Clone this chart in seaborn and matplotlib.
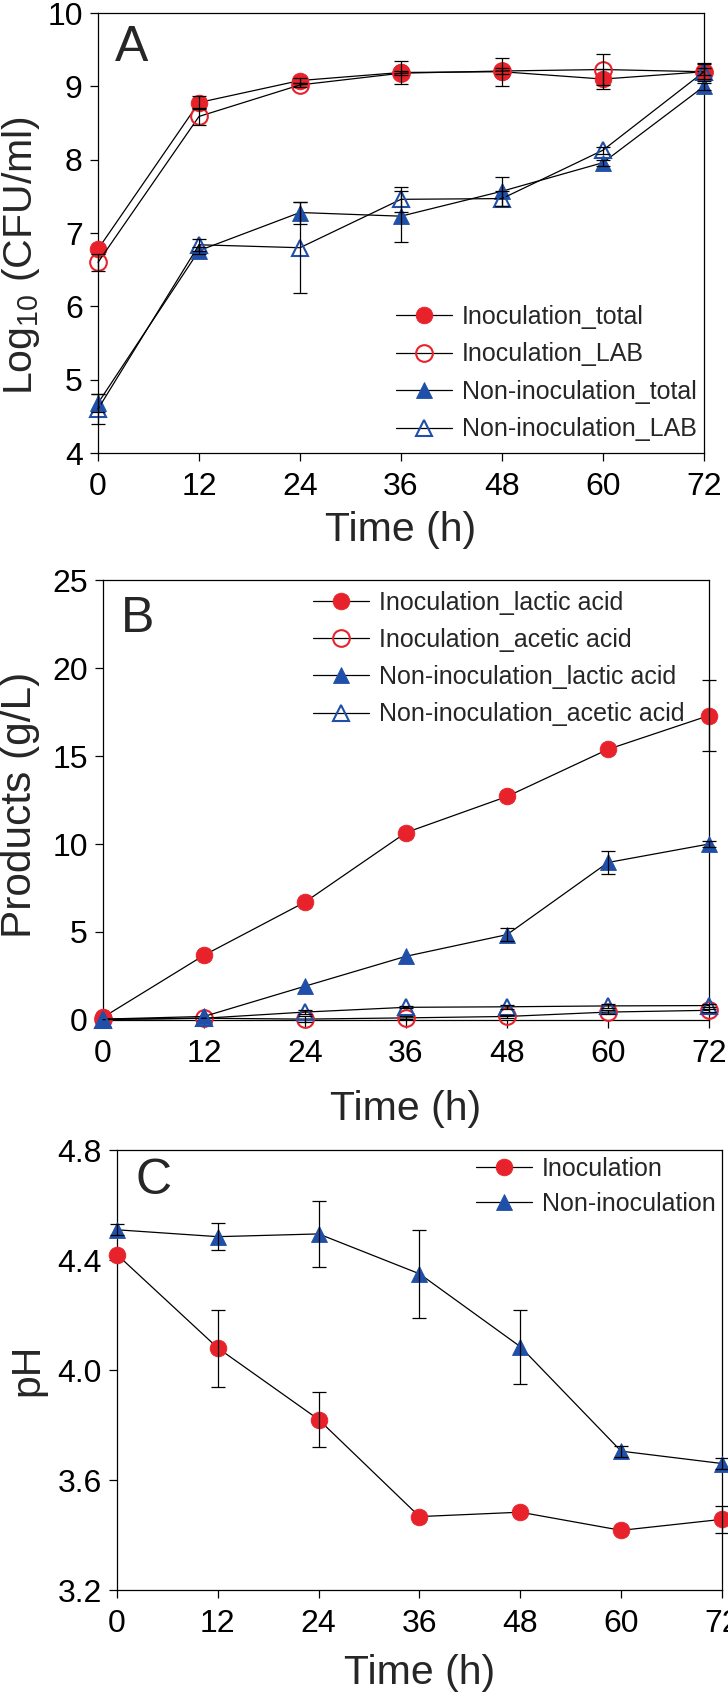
import numpy as np
import seaborn as sns
import matplotlib.pyplot as plt
from matplotlib.ticker import FormatStrFormatter

RED = "#e8222a"
BLUE = "#1f4fa8"

hours = [0, 12, 24, 36, 48, 60, 72]

# A: viable counts, log10 CFU/ml (error 0 = bar hidden behind the marker)
inoc_total = [6.78, 8.78, 9.08, 9.19, 9.20, 9.10, 9.20]
inoc_total_err = [0.0, 0.09, 0.03, 0.16, 0.19, 0.14, 0.10]
inoc_lab = [6.60, 8.59, 9.02, 9.18, 9.21, 9.23, 9.20]
inoc_lab_err = [0.12, 0.11, 0.03, 0.03, 0.04, 0.21, 0.05]
non_total = [4.68, 6.76, 7.28, 7.23, 7.57, 7.96, 9.00]
non_total_err = [0.12, 0.05, 0.15, 0.35, 0.20, 0.04, 0.05]
non_lab = [4.60, 6.84, 6.80, 7.46, 7.47, 8.13, 9.20]
non_lab_err = [0.20, 0.08, 0.62, 0.17, 0.10, 0.05, 0.12]

# B: organic acids, g/L
inoc_lactic = [0.15, 3.68, 6.70, 10.65, 12.70, 15.38, 17.30]
inoc_lactic_err = [0.0, 0.0, 0.0, 0.0, 0.0, 0.0, 2.00]
inoc_acetic = [0.05, 0.10, 0.05, 0.12, 0.20, 0.45, 0.55]
inoc_acetic_err = [0.0, 0.0, 0.15, 0.08, 0.10, 0.10, 0.10]
non_lactic = [0.05, 0.20, 1.92, 3.62, 4.85, 8.95, 10.00]
non_lactic_err = [0.0, 0.0, 0.0, 0.0, 0.35, 0.68, 0.15]
non_acetic = [0.02, 0.10, 0.45, 0.72, 0.75, 0.80, 0.82]
non_acetic_err = [0.0, 0.0, 0.10, 0.05, 0.10, 0.10, 0.10]

# C: pH
ph_inoc = [4.42, 4.08, 3.82, 3.467, 3.483, 3.417, 3.457]
ph_inoc_err = [0.0, 0.14, 0.10, 0.0, 0.0, 0.0, 0.05]
ph_non = [4.51, 4.485, 4.495, 4.35, 4.085, 3.705, 3.66]
ph_non_err = [0.02, 0.05, 0.12, 0.16, 0.135, 0.02, 0.02]

sns.set_theme(style="ticks")
plt.rcParams["font.family"] = ["Liberation Sans", "DejaVu Sans"]
plt.rcParams["mathtext.fontset"] = "custom"
plt.rcParams["mathtext.rm"] = "Liberation Sans"
plt.rcParams["mathtext.it"] = "Liberation Sans"

fig = plt.figure(figsize=(7.28, 16.98), dpi=100)
ax_a = fig.add_axes([0.1346, 0.7332, 0.8324, 0.2591])
ax_b = fig.add_axes([0.1415, 0.3993, 0.8324, 0.2591])
ax_c = fig.add_axes([0.1607, 0.0636, 0.8310, 0.2591])


def series(ax, y, err, marker, color, filled, label):
    ms = 12 if marker == "o" else 11
    sns.lineplot(x=hours, y=y, ax=ax, color="black", linewidth=0.9,
                 marker=marker, markersize=ms,
                 markerfacecolor=color if filled else "none",
                 markeredgecolor=color, markeredgewidth=0.6 if filled else 1.5,
                 label=label, clip_on=False, zorder=3)
    # only the bars that stick out of the marker are drawn
    keep = [i for i, e in enumerate(err) if e > 0]
    ax.errorbar([hours[i] for i in keep], [y[i] for i in keep],
                yerr=[err[i] for i in keep], fmt="none", ecolor="black",
                elinewidth=0.9, capsize=5, capthick=0.9, zorder=4, clip_on=False)


def style(ax, letter, lx, ly):
    ax.set_xlim(0, 72)
    ax.set_xticks(hours)
    for s in ax.spines.values():
        s.set_visible(True)
        s.set_linewidth(0.9)
        s.set_color("black")
    ax.tick_params(direction="out", length=6, width=0.9, labelsize=23,
                   colors="black")
    ax.tick_params(axis="x", pad=8)
    ax.tick_params(axis="y", pad=5)
    ax.text(lx, ly, letter, transform=ax.transAxes, fontsize=36,
            ha="center", va="center")


def legend(ax, x, y, spacing):
    ax.legend(loc="upper left", bbox_to_anchor=(x, y), frameon=False,
              fontsize=18, borderpad=0, borderaxespad=0, handlelength=2.24,
              handletextpad=0.4, labelspacing=spacing)


# A
series(ax_a, inoc_total, inoc_total_err, "o", RED, True, "Inoculation_total")
series(ax_a, inoc_lab, inoc_lab_err, "o", RED, False, "Inoculation_LAB")
series(ax_a, non_total, non_total_err, "^", BLUE, True, "Non-inoculation_total")
series(ax_a, non_lab, non_lab_err, "^", BLUE, False, "Non-inoculation_LAB")
ax_a.set_ylim(4, 10)
ax_a.set_yticks(range(4, 11))
style(ax_a, "A", 0.0556, 0.920)
ax_a.set_ylabel("Log$_{10}$ (CFU/ml)", fontsize=29.5)
ax_a.set_xlabel("Time (h)", fontsize=29.5)
legend(ax_a, 0.492, 0.337, 0.54)

# B
series(ax_b, inoc_lactic, inoc_lactic_err, "o", RED, True, "Inoculation_lactic acid")
series(ax_b, inoc_acetic, inoc_acetic_err, "o", RED, False, "Inoculation_acetic acid")
series(ax_b, non_lactic, non_lactic_err, "^", BLUE, True, "Non-inoculation_lactic acid")
series(ax_b, non_acetic, non_acetic_err, "^", BLUE, False, "Non-inoculation_acetic acid")
ax_b.set_ylim(0, 25)
ax_b.set_yticks(range(0, 26, 5))
style(ax_b, "B", 0.057, 0.911)
ax_b.set_ylabel("Products (g/L)", fontsize=30.5)
ax_b.set_xlabel("Time (h)", fontsize=29.5)
legend(ax_b, 0.3465, 0.976, 0.53)

# C
series(ax_c, ph_inoc, ph_inoc_err, "o", RED, True, "Inoculation")
series(ax_c, ph_non, ph_non_err, "^", BLUE, True, "Non-inoculation")
ax_c.set_ylim(3.2, 4.8)
ax_c.set_yticks(np.arange(3.2, 4.81, 0.4))
ax_c.yaxis.set_major_formatter(FormatStrFormatter("%.1f"))
style(ax_c, "C", 0.061, 0.93)
ax_c.set_ylabel("pH", fontsize=29.5)
ax_c.set_xlabel("Time (h)", fontsize=29.5)
legend(ax_c, 0.593, 0.984, 0.43)

ax_a.yaxis.set_label_coords(-0.092, 0.448)
ax_b.yaxis.set_label_coords(-0.104, 0.49)
ax_c.yaxis.set_label_coords(-0.116, 0.5)
ax_a.xaxis.set_label_coords(0.5, -0.131)
ax_b.xaxis.set_label_coords(0.5, -0.159)
ax_c.xaxis.set_label_coords(0.5, -0.146)

fig.savefig("out.png", dpi=100)
